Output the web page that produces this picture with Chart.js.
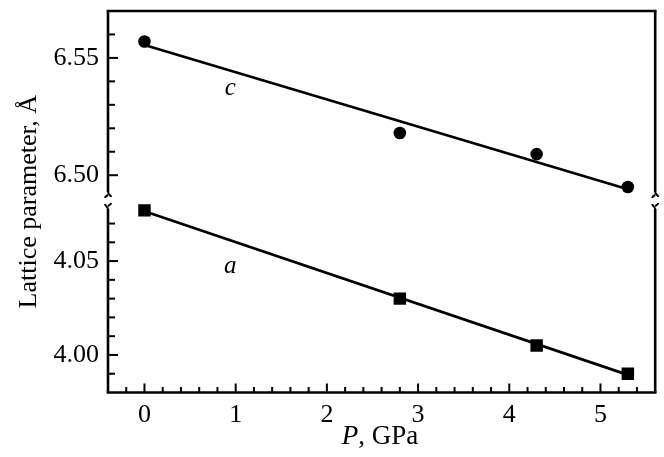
<!DOCTYPE html>
<html><head><meta charset="utf-8">
<script src="https://cdn.jsdelivr.net/npm/chart.js@4.4.1/dist/chart.umd.min.js"></script>
<style>html,body{margin:0;padding:0;background:#fff}#wrap{width:664px;height:457px;position:relative}</style>
</head><body><div id="wrap"><canvas id="cv"></canvas></div>
<script>
// ---- data ----
const pressure = [0, 2.8, 4.3, 5.3];
const cValues = [6.557, 6.518, 6.509, 6.495];
const aValues = [4.077, 4.030, 4.005, 3.990];
const fitP = [0, 5.3];
const fitC = [6.5555, 6.4940];
const fitA = [4.0765, 3.9894];
const xTickLabels = ['0', '1', '2', '3', '4', '5'];
const yTickLabelsUpper = ['6.50', '6.55'];
const yTickLabelsLower = ['4.00', '4.05'];
const curveNames = ['c', 'a'];
const xTitle = ['P', ', GPa'];
const yTitle = 'Lattice parameter, Å';

const pts = (xs, ys) => xs.map((x, i) => ({x, y: ys[i]}));
const SERIF = '"Liberation Serif", "DejaVu Serif", serif';

const frame = {
  id: 'frame',
  afterDraw(chart) {
    const {ctx, chartArea: a, scales} = chart;
    const xs = scales.x, yl = scales.y, yu = scales.y2;
    const brk = yu.bottom;
    const line = (x1, y1, x2, y2) => { ctx.beginPath(); ctx.moveTo(x1, y1); ctx.lineTo(x2, y2); ctx.stroke(); };
    ctx.save();
    ctx.strokeStyle = '#000';
    ctx.lineWidth = 2.6;
    line(a.left - 1.3, a.top, a.right + 1.3, a.top);
    line(a.left - 1.3, a.bottom, a.right + 1.3, a.bottom);
    for (const X of [a.left, a.right]) {
      line(X, a.top, X, brk - 9);
      line(X, brk + 8, X, a.bottom);
      ctx.lineWidth = 2;
      ctx.beginPath();
      ctx.moveTo(X, brk - 9.5);
      ctx.bezierCurveTo(X, brk - 6, X + 3, brk - 6, X + 3, brk - 4);
      ctx.moveTo(X, brk - 6);
      ctx.bezierCurveTo(X - 2, brk - 5, X - 3, brk - 4, X - 3, brk - 3);
      ctx.stroke();
      ctx.beginPath();
      ctx.moveTo(X, brk + 8.5);
      ctx.bezierCurveTo(X, brk + 5, X - 3, brk + 5, X - 3, brk + 3);
      ctx.moveTo(X, brk + 5);
      ctx.bezierCurveTo(X + 2, brk + 4, X + 3, brk + 3, X + 3, brk + 2);
      ctx.stroke();
      ctx.lineWidth = 2.6;
    }
    ctx.lineWidth = 2;
    xs.ticks.forEach(t => {
      if (t.value <= xs.min + 1e-9 || t.value >= xs.max - 1e-9) return;
      const px = xs.getPixelForValue(t.value);
      line(px, a.bottom, px, a.bottom - (t.label ? 9 : 5.5));
    });
    for (const s of [yl, yu]) {
      s.ticks.forEach(t => {
        const py = s.getPixelForValue(t.value);
        if (py <= s.top + 4 || py >= s.bottom - 4) return;
        line(a.left, py, a.left + (t.label ? 10 : 7), py);
      });
    }
    // texts
    ctx.fillStyle = '#000';
    ctx.textBaseline = 'middle';
    ctx.textAlign = 'center';
    ctx.font = 'italic 25px ' + SERIF;
    ctx.fillText(curveNames[0], xs.getPixelForValue(0.94), yu.getPixelForValue(6.5368));
    ctx.fillText(curveNames[1], xs.getPixelForValue(0.94), yl.getPixelForValue(4.047));
    // x title
    ctx.textAlign = 'left';
    ctx.font = 'italic 27px ' + SERIF;
    const w1 = ctx.measureText(xTitle[0]).width;
    ctx.font = '27px ' + SERIF;
    const w2 = ctx.measureText(xTitle[1]).width;
    const x0 = 380 - (w1 + w2) / 2;
    ctx.font = 'italic 27px ' + SERIF;
    ctx.fillText(xTitle[0], x0, 437);
    ctx.font = '27px ' + SERIF;
    ctx.fillText(xTitle[1], x0 + w1, 437);
    // y title
    ctx.font = '26px ' + SERIF;
    ctx.translate(29, (a.top + a.bottom) / 2);
    ctx.rotate(-Math.PI / 2);
    ctx.textAlign = 'center';
    ctx.fillText(yTitle, 0, 0);
    ctx.restore();
  }
};

const tickFont = {family: SERIF, size: 26};
const noPadY = s => { s.width = 108; s.paddingTop = 0; s.paddingBottom = 0; };

new Chart(document.getElementById('cv'), {
  type: 'scatter',
  data: {
    datasets: [
      {label: 'c fit', data: pts(fitP, fitC), yAxisID: 'y2', showLine: true, borderColor: '#000', borderWidth: 2.7, pointRadius: 0},
      {label: 'a fit', data: pts(fitP, fitA), yAxisID: 'y', showLine: true, borderColor: '#000', borderWidth: 2.7, pointRadius: 0},
      {label: 'c', data: pts(pressure, cValues), yAxisID: 'y2', pointStyle: 'circle', pointRadius: 6.3, backgroundColor: '#000', borderColor: '#000', borderWidth: 0},
      {label: 'a', data: pts(pressure, aValues), yAxisID: 'y', pointStyle: 'rect', pointRadius: 8.8, backgroundColor: '#000', borderColor: '#000', borderWidth: 0}
    ]
  },
  options: {
    responsive: true,
    maintainAspectRatio: false,
    animation: false,
    layout: {padding: {left: 0, top: 11, right: 6.3, bottom: 0}},
    plugins: {legend: {display: false}, tooltip: {enabled: false}},
    scales: {
      x: {
        type: 'linear', min: -0.4, max: 5.6,
        grid: {display: false, drawTicks: false}, border: {display: false},
        afterFit(s) { s.height = 64.5; s.paddingLeft = 0; s.paddingRight = 0; },
        ticks: {
          stepSize: 0.2, autoSkip: false, maxRotation: 0, padding: 7, color: '#000', font: tickFont,
          callback(v) { const s = String(Math.round(v * 10) / 10); return (Math.abs(v - Math.round(v)) < 1e-6 && xTickLabels.includes(s)) ? s : ''; }
        }
      },
      y: {
        type: 'linear', position: 'left', stack: 'left', stackWeight: 191.5,
        min: 3.98, max: 4.082,
        grid: {display: false, drawTicks: false}, border: {display: false},
        afterFit: noPadY,
        ticks: {
          stepSize: 0.01, includeBounds: false, autoSkip: false, padding: 9, color: '#000', font: tickFont,
          callback(v) { const s = v.toFixed(2); return (Math.abs(v - parseFloat(s)) < 1e-6 && yTickLabelsLower.includes(s)) ? s : ''; }
        }
      },
      y2: {
        type: 'linear', position: 'left', stack: 'left', stackWeight: 190,
        min: 6.489, max: 6.570,
        grid: {display: false, drawTicks: false}, border: {display: false},
        afterFit: noPadY,
        ticks: {
          stepSize: 0.01, includeBounds: false, autoSkip: false, padding: 9, color: '#000', font: tickFont,
          callback(v) { const s = v.toFixed(2); return (Math.abs(v - parseFloat(s)) < 1e-6 && yTickLabelsUpper.includes(s)) ? s : ''; }
        }
      }
    }
  },
  plugins: [frame]
});
</script>
</body></html>
